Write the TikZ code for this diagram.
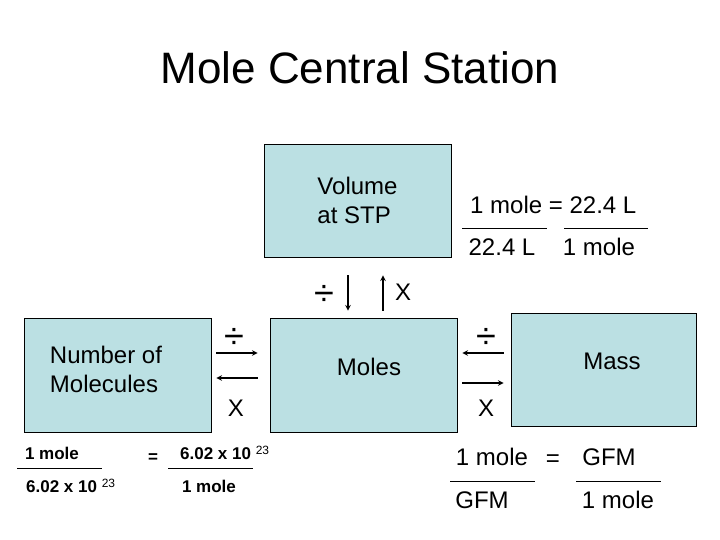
\documentclass[tikz,border=0pt]{standalone}
\usepackage{fontspec}
\setmainfont{Liberation Sans}
\usepackage{xcolor}
\definecolor{boxblue}{HTML}{BBE0E3}
\usetikzlibrary{arrows,calc}

\begin{document}
\begin{tikzpicture}[
    x=1pt, y=-1pt,
    box/.style={rectangle, draw, line width=0.8pt, fill=boxblue, inner sep=0pt},
    txt/.style={inner sep=0pt, font=\fontsize{24}{28.8}\selectfont},
    small/.style={inner sep=0pt, font=\fontsize{17}{20.4}\selectfont\bfseries},
    divsign/.style={inner sep=0pt, font=\fontsize{36}{40}\selectfont},
    conv/.style={->, >=stealth, line width=1.5pt},
    frac/.style={line width=0.9pt}
]
\useasboundingbox (0,0) rectangle (720,540);

% Title
\node[inner sep=0pt, font=\fontsize{44}{52}\selectfont] (title) at (360,68) {Mole Central Station};

% Boxes
\node[box, txt, align=left, minimum width=187pt, minimum height=113pt] (volume) at (357.5,200.5) {Volume\\at STP};
\node[box, minimum width=187pt, minimum height=114pt] (molecules) at (117.5,375) {};
\node[box, minimum width=187pt, minimum height=114pt] (moles) at (363.5,375) {};
\node[box, minimum width=185pt, minimum height=113pt] (mass) at (603.5,369.5) {};

\node[txt, align=left] (moleculestext) at (106,369.5) {Number of\\Molecules};
\node[txt] (molestext) at (369,367) {Moles};
\node[txt] (masstext) at (612,361) {Mass};

% Volume <-> Moles
\draw[conv, shorten <=18pt, shorten >=7pt] ($(volume.south)+(-9.5,0)$) -- ($(volume.south |- moles.north)+(-9.5,0)$);
\draw[conv, shorten <=7pt, shorten >=18pt] ($(moles.north)+(19.5,0)$) -- ($(moles.north |- volume.south)+(19.5,0)$);
\node[divsign] (voldiv) at (324,295) {÷};
\node[txt] (volmul) at (403,292) {X};

% Molecules <-> Moles
\draw[conv, shorten <=5pt, shorten >=12pt] ($(molecules.east)+(0,-22)$) -- ($(moles.west)+(0,-22)$);
\draw[conv, shorten <=12pt, shorten >=5pt] ($(moles.west)+(0,3)$) -- ($(molecules.east)+(0,3)$);
\node[divsign] (molecdiv) at (234,338) {÷};
\node[txt] (molecmul) at (236,408) {X};

% Mass <-> Moles
\draw[conv, shorten <=7pt, shorten >=5pt] ($(moles.east -| mass.west)+(0,-22)$) -- ($(moles.east)+(0,-22)$);
\draw[conv, shorten <=5pt, shorten >=7pt] ($(moles.east)+(0,8)$) -- ($(moles.east -| mass.west)+(0,8)$);
\node[divsign] (massdiv) at (486,338) {÷};
\node[txt] (massmul) at (486,408) {X};

% Volume factors
\node[txt, anchor=west] (volfact) at (470,205) {1 mole = 22.4 L};
\draw[frac] (462,228) -- (547,228);
\draw[frac] (564,228) -- (648,228);
\node[txt] (volden1) at (502,247) {22.4 L};
\node[txt] (volden2) at (599,247) {1 mole};

% Molecule factors
\node[small] (molecnum1) at (52,453) {1 mole};
\draw[frac] (17,468) -- (102,468);
\node[small, anchor=base west] (molecden1) at (26,492.5) {6.02 x 10 \raisebox{5.5pt}{\mdseries\fontsize{12}{14}\selectfont 23}};
\node[small] (moleceq) at (153,458) {=};
\node[small, anchor=base west] (molecnum2) at (180,459.3) {6.02 x 10 \raisebox{5pt}{\mdseries\fontsize{12}{14}\selectfont 23}};
\draw[frac] (168,468) -- (253,468);
\node[small] (molecden2) at (209,486) {1 mole};

% Mass factors
\node[txt] (massnum1) at (492,457) {1 mole};
\node[txt] (masseq) at (553,461) {=};
\node[txt] (massnum2) at (609,457) {GFM};
\draw[frac] (450,481) -- (535,481);
\draw[frac] (576,481) -- (661,481);
\node[txt] (massden1) at (482,500) {GFM};
\node[txt] (massden2) at (618,500) {1 mole};

\end{tikzpicture}
\end{document}
